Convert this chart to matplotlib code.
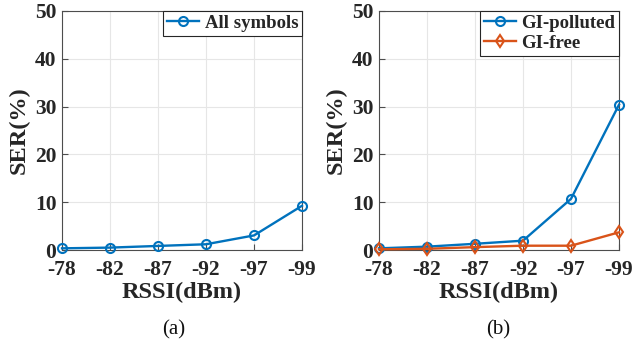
import matplotlib
matplotlib.use("Agg")
import matplotlib.pyplot as plt

rssi_labels = ["-78", "-82", "-87", "-92", "-97", "-99"]
all_symbols = [0.35, 0.5, 0.85, 1.2, 3.05, 9.25]
gi_polluted = [0.35, 0.7, 1.3, 1.95, 10.7, 30.4]
gi_free = [0.15, 0.25, 0.6, 0.9, 0.9, 3.7]

plt.rcParams['font.family'] = ['Liberation Serif', 'DejaVu Serif']
blue = '#0072BD'
orange = '#D95319'
txt = '#262626'

fig = plt.figure(figsize=(6.33, 3.47), dpi=100)
ax1 = fig.add_axes([62/633, 97/347, 240/633, 239/347])
ax2 = fig.add_axes([379/633, 97/347, 240/633, 239/347])

x = list(range(len(rssi_labels)))

kw = dict(lw=1.7, ms=6.5, mfc='none', mew=1.5, clip_on=False, zorder=3)
ax1.plot(x, all_symbols, color=blue, marker='o', label='All symbols', **kw)
ax2.plot(x, gi_polluted, color=blue, marker='o', label='GI-polluted', **kw)
ax2.plot(x, gi_free, color=orange, marker='d', label='GI-free', **kw)

for ax in (ax1, ax2):
    ax.set_xlim(0, 5)
    ax.set_ylim(0, 50)
    ax.set_xticks(x)
    ax.set_xticklabels(rssi_labels)
    ax.set_yticks([0, 10, 20, 30, 40, 50])
    ax.grid(True, color='#e6e6e6', lw=0.8)
    ax.set_axisbelow(True)
    ax.tick_params(direction='in', length=4, width=0.8, colors='#4d4d4d', labelcolor=txt, labelsize=15.5)
    ax.tick_params(axis='x', pad=7.5)
    ax.tick_params(axis='y', pad=4)
    for lab in ax.get_xticklabels() + ax.get_yticklabels():
        lab.set_fontweight('bold')
    for s in ax.spines.values():
        s.set_color('#4d4d4d')
        s.set_linewidth(0.8)
    ax.set_xlabel('RSSI(dBm)', fontsize=17.5, fontweight='bold', color=txt, labelpad=1)
    ax.set_ylabel('SER(%)', fontsize=17.5, fontweight='bold', color=txt, labelpad=4)
    leg = ax.legend(loc='upper right', prop={'weight': 'bold', 'size': 13.5},
                    frameon=True, fancybox=False, borderaxespad=0, handlelength=1.7,
                    handletextpad=0.3, borderpad=0.2, labelspacing=0.15, framealpha=1)
    leg.get_frame().set_edgecolor('#262626')
    leg.get_frame().set_linewidth(0.8)
    for t in leg.get_texts():
        t.set_color(txt)

fig.text(173.5/633, 1 - 330/347, '(a)', ha='center', va='center', fontsize=15, color='#111111')
fig.text(498/633, 1 - 330/347, '(b)', ha='center', va='center', fontsize=15, color='#111111')

fig.savefig('out.png', dpi=100)
